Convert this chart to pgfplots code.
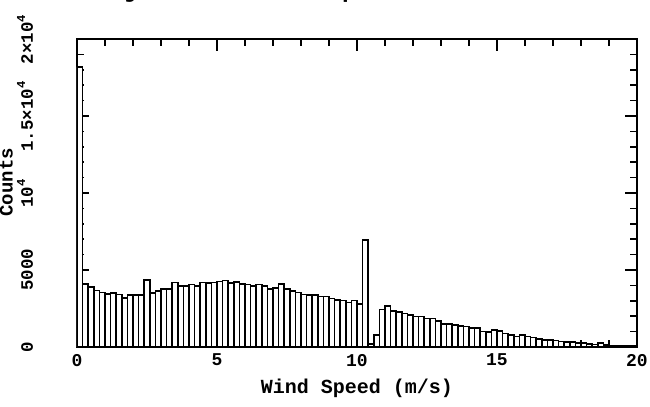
\documentclass[border=0pt]{standalone}
\usepackage{fontspec}
\setmainfont{Liberation Mono}
\usepackage{pgfplots}
\pgfplotsset{compat=1.18}
\begin{document}
\begin{tikzpicture}
\begin{axis}[
  scale only axis, width=280pt, height=154pt,
  xmin=0, xmax=20, ymin=0, ymax=20000,
  scaled y ticks=false, scaled x ticks=false,
  xtick={0,5,10,15,20}, xticklabels={0,5,10,15,20},
  minor x tick num=4,
  ytick={0,5000,10000,15000,20000},
  yticklabels={0,5000,10\textsuperscript{4},1.5×10\textsuperscript{4},2×10\textsuperscript{4}},
  minor y tick num=4,
  tick align=inside,
  major tick length=6pt, minor tick length=3.5pt,
  every tick/.style={black, line width=0.8pt},
  axis line style={line width=1pt},
  yticklabel style={rotate=90, anchor=south, font=\bfseries\fontsize{8.7}{10}\selectfont},
  yticklabel shift=18.5pt,
  xticklabel style={font=\bfseries\fontsize{9}{10}\selectfont},
  xlabel={Wind Speed (m/s)}, ylabel={Counts},
  xlabel style={at={(axis description cs:0.5,0)}, anchor=north, yshift=-12.5pt, font=\bfseries\fontsize{10}{12}\selectfont},
  ylabel style={at={(axis description cs:-0.102,0.535)}, anchor=south, font=\bfseries\fontsize{9.5}{12}\selectfont},
  title={Chajnantor: 1995 April to 2004 December},
  title style={at={(axis description cs:0.5,1)}, anchor=base, yshift=14.75pt, xshift=2pt, font=\bfseries\fontsize{11.8}{13}\selectfont},
]
\addplot[ybar interval, draw=black, fill=white, line width=0.8pt] coordinates {
(0.0,18200) (0.2,4100) (0.4,3900) (0.6,3680) (0.8,3550) (1.0,3450) (1.2,3500) (1.4,3420) (1.6,3200) (1.8,3380)
(2.0,3380) (2.2,3380) (2.4,4350) (2.6,3500) (2.8,3650) (3.0,3760) (3.2,3760) (3.4,4200) (3.6,3980) (3.8,3980)
(4.0,4070) (4.2,3980) (4.4,4200) (4.6,4150) (4.8,4200) (5.0,4250) (5.2,4320) (5.4,4150) (5.6,4220) (5.8,4090)
(6.0,4070) (6.2,3950) (6.4,4070) (6.6,3980) (6.8,3760) (7.0,3850) (7.2,4100) (7.4,3760) (7.6,3630) (7.8,3530)
(8.0,3400) (8.2,3370) (8.4,3370) (8.6,3270) (8.8,3270) (9.0,3160) (9.2,3050) (9.4,3010) (9.6,2900) (9.8,3010)
(10.0,2790) (10.2,6950) (10.4,200) (10.6,780) (10.8,2440) (11.0,2660) (11.2,2340) (11.4,2290) (11.6,2180) (11.8,2080)
(12.0,1970) (12.2,1970) (12.4,1860) (12.6,1860) (12.8,1700) (13.0,1500) (13.2,1480) (13.4,1440) (13.6,1380) (13.8,1320)
(14.0,1230) (14.2,1230) (14.4,1000) (14.6,990) (14.8,1120) (15.0,1020) (15.2,870) (15.4,760) (15.6,670) (15.8,760)
(16.0,680) (16.2,620) (16.4,520) (16.6,450) (16.8,440) (17.0,420) (17.2,360) (17.4,320) (17.6,310) (17.8,240)
(18.0,240) (18.2,190) (18.4,170) (18.6,260) (18.8,130) (19.0,110) (19.2,100) (19.4,100) (19.6,90) (19.8,85)
(20.0,0)
};
\end{axis}
\pgfresetboundingbox
\useasboundingbox (-38.5pt,-30pt) rectangle (286.5pt,173.5pt);
\end{tikzpicture}
\end{document}
